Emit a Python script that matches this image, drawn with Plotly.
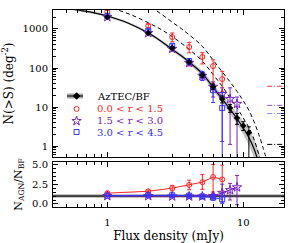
import plotly.graph_objects as go

FONT = "DejaVu Serif"
RED = "#ff2424"
PURPLE = "#7a22c2"
BLUE = "#3434ff"

# ---------------- data ----------------
# AzTEC blank-field counts
flux_bf = [1, 2, 3, 4, 5, 6, 7, 8, 9, 10, 11]
n_bf = [2030, 790, 325, 142, 66, 33, 16, 9.4, 5.2, 3.3, 2.2]
n_bf_up = [60, 40, 22, 13, 8, 6, 3.2, 2.1, 1.6, 0.9, 0.9]
n_bf_dn = [60, 40, 22, 13, 8, 5, 3.3, 2.1, 1.6, 0.8, 1.9]

# 0.0 < r < 1.5
flux_r1 = [1, 2, 3, 4, 5, 6, 7]
n_r1 = [2740, 1200, 620, 345, 192, 112, 52]
n_r1_up = [250, 150, 170, 110, 55, 50, 30]
n_r1_dn = [230, 130, 150, 100, 65, 78, 28]

# 1.5 < r < 3.0
flux_r2 = [1, 2, 3, 4, 5, 6, 7, 8, 9]
n_r2 = [2030, 790, 310, 135, 63, 33, 21.6, 16, 12]
n_r2_up = [120, 70, 40, 22, 14, 11, 9.5, 15, 6]
n_r2_dn = [120, 70, 40, 22, 14, 15, 20.3, 14.9, 11.7]

# 3.0 < r < 4.5
flux_r3 = [1, 2, 3, 4, 5, 6, 7]
n_r3 = [2150, 900, 370, 150, 65, 27, 9.4]
n_r3_up = [120, 80, 45, 25, 17, 10, 14]
n_r3_dn = [120, 80, 45, 25, 17, 14, 9.1]

# ratios N_AGN / N_BF
ratio_r1 = [1.37, 1.6, 2.0, 2.4, 2.75, 3.4, 3.1]
ratio_r1_up = [0.12, 0.15, 0.35, 0.6, 0.95, 1.6, 1.8]
ratio_r1_dn = [0.12, 0.15, 0.35, 0.6, 0.9, 1.9, 1.7]
ratio_r2 = [1.0, 1.0, 0.95, 0.95, 0.95, 1.0, 1.4, 1.75, 2.1]
ratio_r2_up = [0.06, 0.08, 0.12, 0.15, 0.2, 0.3, 1.1, 0.85, 1.5]
ratio_r2_dn = [0.06, 0.08, 0.12, 0.15, 0.2, 0.3, 1.15, 1.25, 2.2]
ratio_r3 = [1.05, 1.1, 1.1, 1.05, 0.95, 0.82, 0.58]
ratio_r3_up = [0.05, 0.07, 0.1, 0.15, 0.2, 0.35, 0.8]
ratio_r3_dn = [0.05, 0.07, 0.1, 0.15, 0.2, 0.35, 0.5]

# best-fit blank-field curve with its uncertainty band
fit_flux = [0.55, 0.6, 0.8, 1.0, 1.4, 2.0, 2.5, 3.0, 3.5, 4.0, 5.0, 6.0, 7.0,
            8.0, 9.0, 10.0, 11.0, 12.0, 12.6, 13.5]
fit_n = [3250, 3070, 2600, 2150, 1450, 790, 480, 300, 205, 142, 72, 32, 16,
         8.8, 5.0, 2.9, 1.65, 0.85, 0.52, 0.22]
fit_hi = [3480, 3290, 2790, 2300, 1550, 856, 526, 333, 230, 161, 84.6, 38.9,
          20.1, 11.6, 6.9, 4.29, 2.62, 1.51, 0.99, 0.47]
fit_lo = [3030, 2864, 2425, 2006, 1353, 729, 438, 270, 183, 125, 61.3, 26.3,
          12.7, 6.68, 3.62, 1.96, 1.04, 0.478, 0.273, 0.103]

# dashed comparison curves
dashA_flux = [1.1, 1.2, 1.5, 2, 2.5, 3, 4, 5, 6, 7, 8, 9, 10, 11, 12, 13, 13.5, 14]
dashA_n = [3500, 3070, 2300, 1450, 960, 640, 300, 150, 68, 34, 17, 9.6, 5.2,
           3.0, 1.5, 0.62, 0.42, 0.28]
dashB_flux = [2.1, 2.25, 2.5, 3, 3.5, 4, 5, 6, 7, 8, 9, 10, 11, 12, 13, 14, 15]
dashB_n = [3600, 3070, 2400, 1500, 1020, 710, 360, 160, 80, 44, 25, 14.5,
           8.2, 4.2, 2.0, 0.9, 0.4]

# single-source limits (dash-dot marks at right)
limit_flux = [15.0, 19.4]
limit_n = [34, 11, 6.8, 1.1]
limit_colors = ["#ff3030", "#9454d8", "#8a8aff", "#000000"]

legend_labels = ["AzTEC/BF", "0.0 < r < 1.5", "1.5 < r < 3.0", "3.0 < r < 4.5"]
legend_colors = ["#000000", RED, PURPLE, BLUE]

# ---------------- figure ----------------
fig = go.Figure()


def err(up, dn, color):
    return dict(type="data", symmetric=False, array=up, arrayminus=dn,
                color=color, thickness=1, width=2)


# band + fit
fig.add_trace(go.Scatter(x=fit_flux, y=fit_lo, mode="lines", line=dict(width=0, shape="spline"),
                         hoverinfo="skip", showlegend=False, xaxis="x", yaxis="y"))
fig.add_trace(go.Scatter(x=fit_flux, y=fit_hi, mode="lines", line=dict(width=0, shape="spline"),
                         fill="tonexty", fillcolor="#c4c4c4", hoverinfo="skip",
                         showlegend=False, xaxis="x", yaxis="y"))
fig.add_trace(go.Scatter(x=fit_flux, y=fit_n, mode="lines",
                         line=dict(color="black", width=1.2, shape="spline"),
                         showlegend=False, xaxis="x", yaxis="y"))
# dashed curves
for fx, fn in [(dashA_flux, dashA_n), (dashB_flux, dashB_n)]:
    fig.add_trace(go.Scatter(x=fx, y=fn, mode="lines",
                             line=dict(color="black", width=1, dash="4px,3px", shape="spline"),
                             showlegend=False, xaxis="x", yaxis="y"))
# limit marks
for v, c in zip(limit_n, limit_colors):
    fig.add_trace(go.Scatter(x=limit_flux, y=[v, v], mode="lines",
                             line=dict(color=c, width=1, dash="5px,2px,1px,2px"),
                             showlegend=False, xaxis="x", yaxis="y"))

SZ_C, SZ_S, SZ_Q, SZ_D = 5, 7, 5, 5

# coloured points (main panel)
fig.add_trace(go.Scatter(x=flux_r2, y=n_r2, mode="markers",
                         marker=dict(symbol="star-open", size=SZ_S, color=PURPLE, line=dict(width=1, color=PURPLE)),
                         error_y=err(n_r2_up, n_r2_dn, PURPLE), showlegend=False, xaxis="x", yaxis="y"))
fig.add_trace(go.Scatter(x=flux_r1, y=n_r1, mode="markers",
                         marker=dict(symbol="circle-open", size=SZ_C, color=RED, line=dict(width=1, color=RED)),
                         error_y=err(n_r1_up, n_r1_dn, RED), showlegend=False, xaxis="x", yaxis="y"))
fig.add_trace(go.Scatter(x=flux_r3, y=n_r3, mode="markers",
                         marker=dict(symbol="square-open", size=SZ_Q, color=BLUE, line=dict(width=1, color=BLUE)),
                         error_y=err(n_r3_up, n_r3_dn, BLUE), showlegend=False, xaxis="x", yaxis="y"))
fig.add_trace(go.Scatter(x=flux_bf, y=n_bf, mode="markers",
                         marker=dict(symbol="diamond", size=SZ_D, color="black"),
                         error_y=err(n_bf_up, n_bf_dn, "black"), showlegend=False, xaxis="x", yaxis="y"))

# ratio panel
fig.add_trace(go.Scatter(x=flux_r1, y=ratio_r1, mode="lines+markers",
                         line=dict(color=RED, width=1),
                         marker=dict(symbol="circle-open", size=SZ_C, color=RED, line=dict(width=1, color=RED)),
                         error_y=err(ratio_r1_up, ratio_r1_dn, RED), showlegend=False, xaxis="x2", yaxis="y2"))
fig.add_trace(go.Scatter(x=flux_r2, y=ratio_r2, mode="lines+markers",
                         line=dict(color=PURPLE, width=1),
                         marker=dict(symbol="star-open", size=SZ_S, color=PURPLE, line=dict(width=1, color=PURPLE)),
                         error_y=err(ratio_r2_up, ratio_r2_dn, PURPLE), showlegend=False, xaxis="x2", yaxis="y2"))
fig.add_trace(go.Scatter(x=flux_r3, y=ratio_r3, mode="lines+markers",
                         line=dict(color=BLUE, width=1),
                         marker=dict(symbol="square-open", size=SZ_Q, color=BLUE, line=dict(width=1, color=BLUE)),
                         error_y=err(ratio_r3_up, ratio_r3_dn, BLUE), showlegend=False, xaxis="x2", yaxis="y2"))

# ---------------- hand-made legend (overlay axes in [0,1]) ----------------
leg_x_sym = 0.102
leg_x_line = [0.061, 0.130]
leg_x_text = 0.182
leg_y = [0.415, 0.327, 0.245, 0.170]

fig.add_trace(go.Scatter(x=leg_x_line, y=[leg_y[0]] * 2, mode="lines",
                         line=dict(color="#a8a8a8", width=5), showlegend=False,
                         hoverinfo="skip", xaxis="x3", yaxis="y3"))
fig.add_trace(go.Scatter(x=leg_x_line, y=[leg_y[0]] * 2, mode="lines",
                         line=dict(color="black", width=1), showlegend=False,
                         hoverinfo="skip", xaxis="x3", yaxis="y3"))
leg_syms = ["diamond", "circle-open", "star-open", "square-open"]
leg_sizes = [SZ_D, SZ_C, SZ_S, SZ_Q]
for i in range(4):
    fig.add_trace(go.Scatter(x=[leg_x_sym], y=[leg_y[i]], mode="markers",
                             marker=dict(symbol=leg_syms[i], size=leg_sizes[i], color=legend_colors[i],
                                         line=dict(width=1, color=legend_colors[i])),
                             showlegend=False, hoverinfo="skip", xaxis="x3", yaxis="y3"))
    fig.add_annotation(x=leg_x_text, y=leg_y[i], xref="x3", yref="y3", text=legend_labels[i],
                       showarrow=False, xanchor="left", yanchor="middle",
                       font=dict(family=FONT, size=10, color=legend_colors[i]))

# ratio = 1 reference line
fig.add_shape(type="line", xref="x2 domain", yref="y2", x0=0, x1=1, y0=1, y1=1,
              line=dict(color="#8c8c8c", width=3), layer="below")
fig.add_shape(type="line", xref="x2 domain", yref="y2", x0=0, x1=1, y0=1, y1=1,
              line=dict(color="black", width=1), layer="below")

axis_common = dict(showline=True, linecolor="black", linewidth=1, mirror="allticks",
                   ticks="inside", ticklen=5, tickcolor="black", showgrid=False,
                   zeroline=False, automargin=False,
                   tickfont=dict(family=FONT, size=10, color="black"))
log_minor = dict(ticks="inside", ticklen=3, tickcolor="black", dtick="D1", showgrid=False)

fig.update_layout(
    width=299, height=243,
    margin=dict(l=53, r=15, t=10, b=36),
    paper_bgcolor="white", plot_bgcolor="white",
    font=dict(family=FONT, size=10, color="black"),
    showlegend=False,
    xaxis=dict(axis_common, type="log", range=[-0.4, 1.3], dtick=1, domain=[0, 1],
               anchor="y", showticklabels=False, minor=log_minor),
    yaxis=dict(axis_common, type="log", range=[-0.282, 3.487], dtick=1, domain=[0.2538, 1],
               anchor="x", exponentformat="none", minor=log_minor, ticklabelstandoff=2,
               title=dict(text="N(>S) (deg<sup>-2</sup>)", font=dict(family=FONT, size=12),
                          standoff=7)),
    xaxis2=dict(axis_common, type="log", range=[-0.4, 1.3], dtick=1, domain=[0, 1],
                anchor="y2", minor=log_minor, ticklabelstandoff=6,
                title=dict(text="Flux density (mJy)", font=dict(family=FONT, size=12),
                           standoff=5)),
    yaxis2=dict(axis_common, range=[-0.38, 5.29], tickvals=[0, 2.5, 5],
                ticktext=["0.0", "2.5", "5.0"], domain=[0, 0.2284], anchor="x2",
                ticklabelstandoff=2,
                minor=dict(ticks="inside", ticklen=3, tickcolor="black", dtick=0.5, showgrid=False),
                title=dict(text="N<sub>AGN</sub>/N<sub>BF</sub>", font=dict(family=FONT, size=11),
                           standoff=7)),
    xaxis3=dict(overlaying="x", range=[0, 1], visible=False, anchor="y3"),
    yaxis3=dict(overlaying="y", range=[0, 1], visible=False, anchor="x3"),
)

fig.write_html("out.html", config={"displayModeBar": False},
               post_script="document.body.style.margin='0';document.body.style.overflow='hidden';")
